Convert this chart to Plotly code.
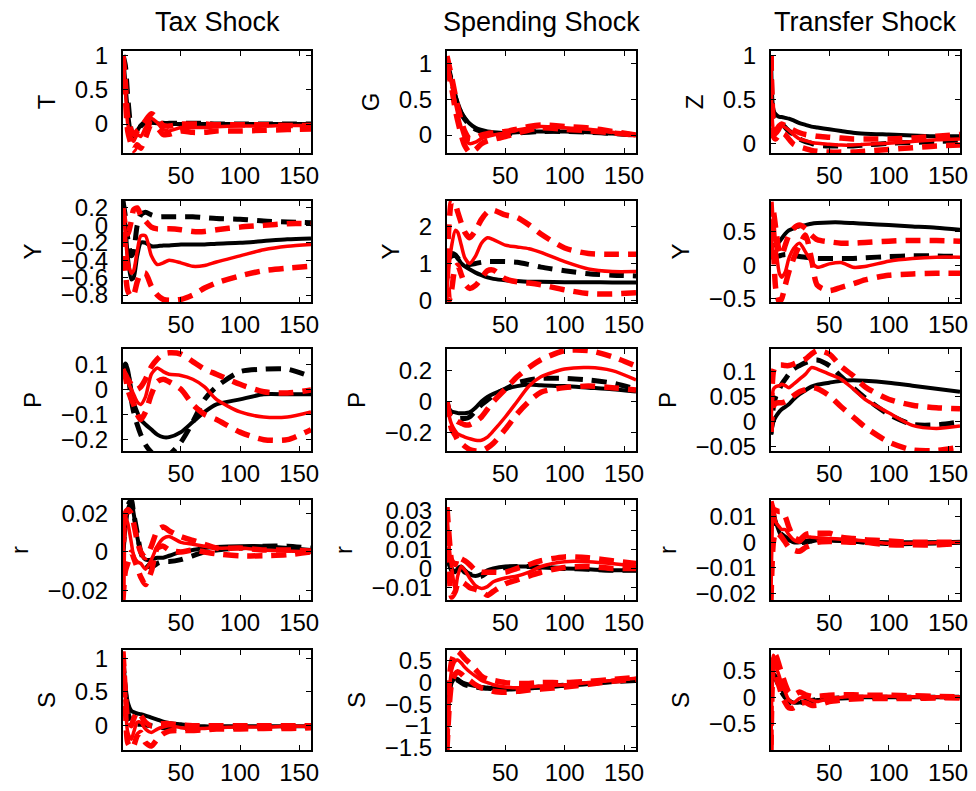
import plotly.graph_objects as go

H = [1, 3, 5, 8, 10, 13, 16, 20, 25, 30, 35, 40, 50, 60, 70, 80, 100, 120, 140, 160]

SHOCKS = ["Tax Shock", "Spending Shock", "Transfer Shock"]
ROW_LABELS = [["T", "G", "Z"], ["Y", "Y", "Y"], ["P", "P", "P"], ["r", "r", "r"], ["S", "S", "S"]]
X_TICKS = [50, 100, 150]

# ---- row 1: own shock variable ----
tax_T = dict(
    blk_s=[1, 0.6, 0.2, -0.15, -0.2, -0.1, -0.02, 0.03, 0.02, 0.01, 0.0, 0.0, 0.0, 0.0, 0.0, 0.0, 0.0, 0.0, 0.0, 0.0],
    blk_d=[1, 0.85, 0.4, -0.1, -0.2, -0.12, -0.03, 0.02, 0.03, 0.02, 0.01, 0.01, 0.01, 0.01, 0.01, 0.0, 0.0, 0.0, 0.0, 0.0],
    red_s=[1, 0.5, 0.0, -0.2, -0.25, -0.15, -0.18, -0.05, 0.08, 0.02, -0.08, -0.1, -0.05, -0.05, -0.05, -0.04, -0.03, -0.03, -0.02, -0.02],
    red_u=[1, 0.6, 0.1, -0.1, -0.15, -0.1, -0.05, 0.05, 0.15, 0.08, -0.02, -0.03, 0.0, 0.0, 0.0, -0.01, -0.01, -0.01, -0.02, -0.02],
    red_l=[1, 0.4, -0.1, -0.3, -0.38, -0.3, -0.35, -0.2, 0.0, -0.05, -0.15, -0.15, -0.1, -0.12, -0.12, -0.1, -0.1, -0.09, -0.08, -0.07],
)
spend_G = dict(
    blk_s=[1, 0.88, 0.75, 0.55, 0.45, 0.32, 0.24, 0.16, 0.1, 0.07, 0.05, 0.04, 0.03, 0.04, 0.05, 0.05, 0.05, 0.04, 0.02, 0.0],
    blk_d=[1, 0.88, 0.74, 0.53, 0.42, 0.3, 0.22, 0.14, 0.08, 0.05, 0.03, 0.02, 0.02, 0.03, 0.04, 0.05, 0.05, 0.04, 0.02, 0.0],
    red_s=[1, 0.85, 0.7, 0.45, 0.3, 0.1, -0.05, -0.12, -0.1, -0.05, -0.02, 0.0, 0.03, 0.07, 0.1, 0.12, 0.1, 0.08, 0.04, 0.0],
    red_u=[1.1, 0.95, 0.8, 0.55, 0.4, 0.2, 0.05, -0.05, -0.04, 0.0, 0.02, 0.03, 0.05, 0.08, 0.12, 0.14, 0.12, 0.1, 0.05, 0.0],
    red_l=[0.95, 0.8, 0.65, 0.35, 0.2, 0.0, -0.15, -0.24, -0.2, -0.12, -0.08, -0.06, -0.02, 0.03, 0.07, 0.1, 0.08, 0.06, 0.03, 0.0],
)
transfer_Z = dict(
    blk_s=[1, 0.38, 0.33, 0.3, 0.3, 0.29, 0.28, 0.26, 0.23, 0.21, 0.19, 0.18, 0.16, 0.14, 0.12, 0.11, 0.1, 0.09, 0.08, 0.08],
    blk_d=[1, 0.33, 0.28, 0.25, 0.22, 0.18, 0.14, 0.1, 0.05, 0.02, 0.0, -0.02, -0.03, -0.03, -0.03, -0.02, 0.0, 0.01, 0.02, 0.03],
    red_s=[1, 0.15, 0.1, 0.15, 0.2, 0.18, 0.15, 0.1, 0.05, 0.03, 0.01, 0.0, -0.01, -0.02, -0.02, -0.01, 0.0, 0.02, 0.04, 0.05],
    red_u=[1, 0.25, 0.15, 0.2, 0.22, 0.2, 0.18, 0.15, 0.12, 0.1, 0.09, 0.08, 0.07, 0.06, 0.05, 0.05, 0.05, 0.06, 0.08, 0.1],
    red_l=[1, 0.08, 0.05, 0.1, 0.12, 0.1, 0.05, -0.01, -0.04, -0.06, -0.08, -0.09, -0.1, -0.1, -0.1, -0.09, -0.07, -0.05, -0.03, -0.02],
)

# ---- row 2: output Y ----
tax_Y = dict(
    blk_s=[0.28, 0.0, -0.35, -0.62, -0.6, -0.35, -0.2, -0.2, -0.24, -0.24, -0.23, -0.23, -0.22, -0.22, -0.22, -0.21, -0.2, -0.18, -0.16, -0.15],
    blk_d=[0.28, 0.1, -0.15, -0.35, -0.3, 0.0, 0.12, 0.15, 0.12, 0.1, 0.1, 0.1, 0.1, 0.1, 0.09, 0.08, 0.07, 0.05, 0.04, 0.03],
    red_s=[0.2, -0.1, -0.4, -0.55, -0.52, -0.3, -0.12, -0.12, -0.35, -0.45, -0.43, -0.4, -0.43, -0.47, -0.46, -0.42, -0.35, -0.28, -0.24, -0.22],
    red_u=[0.2, 0.0, -0.1, 0.05, 0.18, 0.2, 0.12, 0.05, -0.02, -0.04, -0.04, -0.04, -0.05, -0.07, -0.07, -0.05, -0.02, 0.0, 0.02, 0.02],
    red_l=[0.2, -0.5, -0.75, -0.82, -0.8, -0.65, -0.55, -0.55, -0.7, -0.8, -0.85, -0.86, -0.85, -0.8, -0.72, -0.66, -0.58, -0.52, -0.49, -0.47],
)
spend_Y = dict(
    blk_s=[1.1, 1.2, 1.28, 1.25, 1.15, 1.0, 0.92, 0.84, 0.75, 0.68, 0.62, 0.58, 0.54, 0.52, 0.5, 0.5, 0.49, 0.49, 0.48, 0.48],
    blk_d=[1.1, 1.15, 1.2, 1.22, 1.15, 1.05, 0.99, 0.97, 1.0, 1.03, 1.05, 1.05, 1.05, 1.03, 0.97, 0.9, 0.8, 0.72, 0.68, 0.66],
    red_s=[0.3, 1.0, 1.5, 1.9, 1.85, 1.5, 1.15, 1.0, 1.2, 1.55, 1.7, 1.65, 1.5, 1.45, 1.4, 1.3, 1.05, 0.85, 0.78, 0.78],
    red_u=[1.0, 2.2, 2.7, 2.6, 2.4, 2.1, 1.85, 1.7, 1.9, 2.2, 2.4, 2.45, 2.32, 2.25, 2.05, 1.8, 1.42, 1.27, 1.25, 1.25],
    red_l=[1.0, 0.0, 0.3, 0.9, 0.95, 0.7, 0.45, 0.32, 0.4, 0.6, 0.8, 0.82, 0.58, 0.5, 0.47, 0.42, 0.28, 0.18, 0.17, 0.2],
)
transfer_Y = dict(
    blk_s=[0.25, 0.3, 0.3, 0.35, 0.4, 0.47, 0.52, 0.55, 0.58, 0.6, 0.62, 0.63, 0.64, 0.64, 0.63, 0.62, 0.6, 0.58, 0.56, 0.53],
    blk_d=[0.1, 0.12, 0.13, 0.14, 0.15, 0.16, 0.16, 0.15, 0.13, 0.12, 0.11, 0.1, 0.1, 0.1, 0.1, 0.11, 0.13, 0.14, 0.14, 0.13],
    red_s=[0.1, 0.7, 0.3, -0.12, -0.18, -0.1, 0.1, 0.25, 0.33, 0.2, 0.05, -0.03, 0.02, 0.04, -0.03, -0.02, 0.06, 0.1, 0.12, 0.12],
    red_u=[0.1, 0.8, 0.55, 0.2, 0.15, 0.3, 0.45, 0.55, 0.6, 0.55, 0.45, 0.38, 0.35, 0.33, 0.33, 0.34, 0.36, 0.37, 0.37, 0.36],
    red_l=[0.95, 0.3, -0.35, -0.55, -0.5, -0.3, -0.1, 0.1, 0.3, 0.45, 0.1, -0.3, -0.38, -0.33, -0.28, -0.22, -0.15, -0.13, -0.12, -0.12],
)

# ---- row 3: prices P ----
tax_P = dict(
    blk_s=[0.05, 0.1, 0.08, 0.0, -0.05, -0.09, -0.12, -0.14, -0.16, -0.18, -0.19, -0.19, -0.17, -0.13, -0.09, -0.06, -0.04, -0.02, -0.02, -0.02],
    blk_d=[0.05, 0.1, 0.07, -0.04, -0.09, -0.14, -0.18, -0.22, -0.25, -0.27, -0.27, -0.26, -0.21, -0.13, -0.04, 0.01, 0.07, 0.08, 0.08, 0.05],
    red_s=[0.08, 0.06, 0.03, 0.0, -0.02, -0.05, -0.06, -0.03, 0.06, 0.085, 0.07, 0.06, 0.055, 0.04, 0.01, -0.04, -0.09, -0.11, -0.11, -0.09],
    red_u=[0.07, 0.06, 0.04, 0.02, 0.01, 0.0, 0.01, 0.04, 0.09, 0.12, 0.14, 0.145, 0.14, 0.11, 0.08, 0.06, 0.02, -0.01, -0.015, -0.003],
    red_l=[0.08, 0.05, 0.0, -0.04, -0.06, -0.1, -0.12, -0.09, -0.02, 0.03, 0.04, 0.03, 0.0, -0.06, -0.1, -0.12, -0.17, -0.2, -0.2, -0.16],
)
spend_P = dict(
    blk_s=[0.0, -0.05, -0.065, -0.07, -0.075, -0.075, -0.075, -0.07, -0.04, 0.0, 0.03, 0.05, 0.08, 0.1, 0.11, 0.105, 0.1, 0.09, 0.08, 0.065],
    blk_d=[0.0, -0.06, -0.09, -0.1, -0.11, -0.11, -0.11, -0.1, -0.06, -0.02, 0.01, 0.04, 0.08, 0.12, 0.14, 0.15, 0.15, 0.14, 0.12, 0.08],
    red_s=[0.0, -0.1, -0.15, -0.19, -0.21, -0.22, -0.23, -0.24, -0.25, -0.25, -0.23, -0.19, -0.1, 0.0, 0.1, 0.16, 0.21, 0.22, 0.2, 0.14],
    red_u=[0.0, -0.08, -0.11, -0.12, -0.13, -0.14, -0.15, -0.15, -0.13, -0.1, -0.05, 0.0, 0.08, 0.16, 0.22, 0.27, 0.33, 0.33, 0.29, 0.23],
    red_l=[0.0, -0.12, -0.18, -0.22, -0.25, -0.27, -0.29, -0.31, -0.32, -0.32, -0.3, -0.27, -0.18, -0.08, 0.0, 0.06, 0.09, 0.1, 0.09, 0.075],
)
transfer_P = dict(
    blk_s=[-0.025, 0.0, 0.01, 0.02, 0.025, 0.03, 0.035, 0.045, 0.055, 0.063, 0.07, 0.074, 0.078, 0.082, 0.083, 0.082, 0.078, 0.072, 0.066, 0.06],
    blk_d=[-0.025, 0.03, 0.05, 0.065, 0.075, 0.085, 0.095, 0.105, 0.112, 0.118, 0.122, 0.123, 0.112, 0.09, 0.068, 0.048, 0.015, -0.005, -0.006, 0.0],
    red_s=[-0.02, 0.065, 0.07, 0.072, 0.075, 0.072, 0.068, 0.075, 0.085, 0.095, 0.108, 0.105, 0.095, 0.085, 0.066, 0.045, 0.018, -0.007, -0.013, -0.008],
    red_u=[-0.02, 0.1, 0.112, 0.113, 0.113, 0.112, 0.112, 0.115, 0.12, 0.125, 0.135, 0.142, 0.135, 0.11, 0.092, 0.07, 0.045, 0.033, 0.028, 0.026],
    red_l=[-0.02, 0.03, 0.037, 0.038, 0.038, 0.04, 0.045, 0.052, 0.06, 0.064, 0.068, 0.066, 0.052, 0.03, 0.01, -0.01, -0.04, -0.056, -0.057, -0.05],
)

# ---- row 4: interest rate r ----
tax_r = dict(
    blk_s=[0.0, 0.012, 0.022, 0.026, 0.02, 0.008, 0.0, -0.004, -0.004, -0.003, -0.003, -0.002, 0.0, 0.001, 0.002, 0.0025, 0.003, 0.003, 0.002, 0.001],
    blk_d=[0.0, 0.015, 0.024, 0.027, 0.02, 0.01, 0.0, -0.006, -0.008, -0.006, -0.005, -0.005, -0.004, -0.002, 0.0, 0.001, 0.002, 0.003, 0.003, 0.002],
    red_s=[-0.023, 0.018, 0.015, 0.005, -0.002, -0.005, -0.006, -0.009, -0.004, 0.003, 0.007, 0.008, 0.005, 0.004, 0.003, 0.002, 0.002, 0.001, 0.0005, 0.0],
    red_u=[-0.02, 0.02, 0.022, 0.02, 0.015, 0.006, 0.0, -0.003, 0.003, 0.011, 0.013, 0.011, 0.008, 0.006, 0.004, 0.002, 0.002, 0.001, 0.001, 0.0005],
    red_l=[-0.025, -0.01, -0.006, 0.0, -0.003, -0.008, -0.013, -0.017, -0.01, 0.002, 0.003, 0.001, 0.0, 0.001, 0.0, -0.001, -0.002, -0.002, -0.0015, 0.0],
)
spend_r = dict(
    blk_s=[0.006, 0.003, 0.0, -0.002, 0.0, 0.001, -0.001, -0.003, -0.004, -0.003, -0.001, 0.0, 0.001, 0.001, 0.001, 0.0005, 0.0, -0.0005, -0.001, -0.001],
    blk_d=[0.005, 0.002, -0.001, -0.003, -0.001, 0.0, -0.002, -0.003, -0.004, -0.004, -0.002, -0.001, 0.0005, 0.001, 0.001, 0.0005, 0.0, -0.0005, -0.001, -0.001],
    red_s=[0.03, 0.01, 0.0, -0.011, -0.004, 0.001, -0.001, -0.005, -0.009, -0.0105, -0.0095, -0.007, -0.005, -0.004, -0.002, 0.001, 0.0035, 0.0035, 0.0025, 0.001],
    red_u=[0.032, 0.015, 0.004, 0.002, 0.006, 0.005, 0.004, 0.002, -0.001, -0.002, -0.002, -0.002, -0.002, 0.0, 0.002, 0.004, 0.006, 0.0055, 0.004, 0.0025],
    red_l=[0.011, -0.005, -0.015, -0.012, -0.008, -0.007, -0.008, -0.01, -0.011, -0.012, -0.014, -0.012, -0.008, -0.006, -0.004, -0.002, 0.0005, 0.001, 0.0, 0.0],
)
transfer_r = dict(
    blk_s=[0.014, 0.012, 0.008, 0.004, 0.002, 0.001, 0.001, 0.0, 0.0, 0.0005, 0.001, 0.001, 0.0008, 0.0005, 0.0003, 0.0002, 0.0, 0.0, 0.0, 0.0],
    blk_d=[0.012, 0.01, 0.007, 0.004, 0.003, 0.002, 0.001, 0.0005, 0.0, 0.0, 0.0005, 0.001, 0.001, 0.0008, 0.0005, 0.0, -0.0005, -0.0005, -0.0003, 0.0],
    red_s=[-0.022, 0.014, 0.008, 0.006, 0.005, 0.005, 0.003, 0.001, 0.0, 0.002, 0.002, 0.0018, 0.0015, 0.0012, 0.001, 0.0005, -0.0004, -0.0004, -0.0002, 0.0],
    red_u=[0.016, 0.013, 0.0125, 0.012, 0.012, 0.01, 0.006, 0.002, 0.001, 0.003, 0.0035, 0.0035, 0.0035, 0.002, 0.0015, 0.001, 0.0005, 0.0, 0.0, 0.0],
    red_l=[-0.0225, 0.0, 0.004, 0.003, 0.002, 0.0, -0.002, -0.003, -0.0035, -0.002, -0.001, 0.0, 0.0003, 0.0002, 0.0, 0.0, -0.001, -0.001, -0.001, -0.0004],
)

# ---- row 5: S ----
tax_S = dict(
    blk_s=[1.0, 0.6, 0.35, 0.22, 0.2, 0.18, 0.17, 0.15, 0.12, 0.09, 0.06, 0.04, 0.02, 0.0, -0.01, -0.01, -0.01, -0.01, -0.01, -0.01],
    blk_d=[1.0, 0.5, 0.2, 0.05, 0.02, 0.02, 0.02, 0.01, 0.0, -0.02, -0.03, -0.04, -0.04, -0.04, -0.04, -0.03, -0.03, -0.02, -0.02, -0.02],
    red_s=[1.05, 0.4, -0.1, -0.2, -0.1, 0.05, 0.05, -0.05, -0.1, -0.05, -0.02, 0.0, -0.03, -0.05, -0.04, -0.03, -0.02, -0.02, -0.01, -0.01],
    red_u=[1.1, 0.5, 0.1, 0.0, 0.1, 0.2, 0.15, 0.05, 0.0, 0.02, 0.03, 0.03, 0.01, 0.0, 0.0, 0.0, 0.0, 0.0, 0.0, 0.0],
    red_l=[1.0, 0.3, -0.25, -0.33, -0.3, -0.15, -0.1, -0.25, -0.3, -0.2, -0.12, -0.08, -0.07, -0.07, -0.06, -0.05, -0.05, -0.04, -0.04, -0.03],
)
spend_S = dict(
    blk_s=[-1.0, -0.3, 0.0, 0.1, 0.08, 0.02, -0.02, -0.05, -0.08, -0.1, -0.12, -0.13, -0.14, -0.14, -0.13, -0.11, -0.07, -0.03, 0.02, 0.06],
    blk_d=[-1.0, -0.3, 0.0, 0.08, 0.05, 0.0, -0.05, -0.08, -0.1, -0.12, -0.13, -0.14, -0.15, -0.14, -0.12, -0.1, -0.06, -0.02, 0.02, 0.05],
    red_s=[-1.5, -0.2, 0.3, 0.5, 0.52, 0.45, 0.35, 0.25, 0.15, 0.05, 0.0, -0.05, -0.1, -0.12, -0.1, -0.08, -0.05, 0.0, 0.05, 0.1],
    red_u=[-1.4, 0.1, 0.5, 0.7, 0.72, 0.65, 0.55, 0.45, 0.3, 0.15, 0.08, 0.05, 0.0, -0.02, -0.02, 0.0, 0.0, 0.03, 0.07, 0.12],
    red_l=[-1.55, -0.5, 0.0, 0.2, 0.25, 0.2, 0.12, 0.05, -0.05, -0.12, -0.15, -0.2, -0.22, -0.2, -0.17, -0.15, -0.1, -0.04, 0.03, 0.08],
)
transfer_S = dict(
    blk_s=[0.3, 0.45, 0.4, 0.25, 0.15, 0.03, -0.05, -0.1, -0.1, -0.08, -0.06, -0.05, -0.03, -0.02, -0.01, 0.0, 0.0, 0.0, 0.0, 0.0],
    blk_d=[0.3, 0.4, 0.35, 0.2, 0.1, 0.0, -0.08, -0.12, -0.1, -0.08, -0.06, -0.04, -0.02, -0.01, 0.0, 0.0, 0.0, 0.0, 0.0, 0.0],
    red_s=[-1.0, 0.8, 0.6, 0.4, 0.25, 0.1, -0.05, -0.1, -0.02, 0.0, -0.05, -0.08, -0.02, 0.0, 0.02, 0.02, 0.02, 0.01, 0.01, 0.0],
    red_u=[-0.9, 0.85, 0.8, 0.6, 0.45, 0.25, 0.1, 0.05, 0.1, 0.05, 0.02, 0.02, 0.04, 0.05, 0.05, 0.04, 0.04, 0.03, 0.02, 0.01],
    red_l=[-1.0, 0.6, 0.4, 0.2, 0.05, -0.1, -0.2, -0.2, -0.12, -0.1, -0.15, -0.15, -0.08, -0.05, -0.03, -0.02, -0.02, -0.02, -0.01, -0.01],
)

PANELS = [
    [tax_T, spend_G, transfer_Z],
    [tax_Y, spend_Y, transfer_Y],
    [tax_P, spend_P, transfer_P],
    [tax_r, spend_r, transfer_r],
    [tax_S, spend_S, transfer_S],
]

Y_RANGES = [
    [[-0.42, 1.06], [-0.25, 1.17], [-0.11, 1.05]],
    [[-0.88, 0.28], [-0.05, 2.7], [-0.55, 0.96]],
    [[-0.245, 0.16], [-0.32, 0.34], [-0.058, 0.145]],
    [[-0.025, 0.027], [-0.0165, 0.0357], [-0.0225, 0.0165]],
    [[-0.36, 1.12], [-1.55, 0.75], [-1.0, 0.9]],
]
Y_TICKS = [
    [[0, 0.5, 1], [0, 0.5, 1], [0, 0.5, 1]],
    [[-0.8, -0.6, -0.4, -0.2, 0, 0.2], [0, 1, 2], [-0.5, 0, 0.5]],
    [[-0.2, -0.1, 0, 0.1], [-0.2, 0, 0.2], [-0.05, 0, 0.05, 0.1]],
    [[-0.02, 0, 0.02], [-0.01, 0, 0.01, 0.02, 0.03], [-0.02, -0.01, 0, 0.01]],
    [[0, 0.5, 1], [-1.5, -1, -0.5, 0, 0.5], [-0.5, 0, 0.5]],
]

W, Hpx = 976, 791
COL_PX = [(123, 311), (447, 636), (771, 960)]
ROW_PX = [(51, 153), (201, 302), (349, 451), (500, 600), (650, 750)]

STYLES = [
    ("blk_s", "black", 4, "solid"),
    ("blk_d", "black", 5, "15px,9px"),
    ("red_s", "#ff0000", 3.5, "solid"),
    ("red_u", "#ff0000", 5.5, "15px,9px"),
    ("red_l", "#ff0000", 5.5, "15px,9px"),
]

FONT = "Liberation Sans, Arial, Helvetica, sans-serif"

def fmt(v):
    s = ("%g" % v)
    return s.replace("-", "\u2212")

fig = go.Figure()
layout = dict(
    width=W, height=Hpx, autosize=False,
    margin=dict(l=0, r=0, t=0, b=0, pad=0),
    paper_bgcolor="white", plot_bgcolor="white",
    showlegend=False,
    font=dict(family=FONT, size=24, color="black"),
)

annotations = []
k = 0
for r in range(5):
    for c in range(3):
        k += 1
        xa = "xaxis" if k == 1 else f"xaxis{k}"
        ya = "yaxis" if k == 1 else f"yaxis{k}"
        xref = "x" if k == 1 else f"x{k}"
        yref = "y" if k == 1 else f"y{k}"
        x0, x1 = COL_PX[c]
        y0, y1 = ROW_PX[r]
        layout[xa] = dict(
            domain=[x0 / W, x1 / W], anchor=yref, range=[1, 160],
            tickvals=X_TICKS, ticktext=[str(t) for t in X_TICKS],
            ticks="inside", ticklen=5, tickwidth=1, tickcolor="black",
            showline=True, linecolor="black", linewidth=2, mirror="allticks",
            showgrid=False, zeroline=False, ticklabelstandoff=0, automargin=False,
            tickfont=dict(family=FONT, size=24, color="black"),
        )
        yt = Y_TICKS[r][c]
        layout[ya] = dict(
            domain=[1 - y1 / Hpx, 1 - y0 / Hpx], anchor=xref, range=Y_RANGES[r][c],
            tickvals=yt, ticktext=[fmt(t) for t in yt],
            ticks="inside", ticklen=5, tickwidth=1, tickcolor="black",
            showline=True, linecolor="black", linewidth=2, mirror="allticks",
            showgrid=False, zeroline=False, ticklabelstandoff=8, automargin=False,
            tickfont=dict(family=FONT, size=24, color="black"),
            title=dict(text=ROW_LABELS[r][c], standoff=12,
                       font=dict(family=FONT, size=24, color="black")),
        )
        panel = PANELS[r][c]
        for key, color, width, dash in STYLES:
            fig.add_trace(go.Scatter(
                x=H, y=panel[key], xaxis=xref, yaxis=yref, mode="lines",
                line=dict(color=color, width=width, dash=dash, shape="spline", smoothing=0.7),
                hoverinfo="skip",
            ))

for c, title in enumerate(SHOCKS):
    x0, x1 = COL_PX[c]
    annotations.append(dict(
        text=title, x=(x0 + x1) / 2 / W, y=1 - 22 / Hpx, xref="paper", yref="paper",
        showarrow=False, xanchor="center", yanchor="middle",
        font=dict(family=FONT, size=27, color="black"),
    ))

layout["annotations"] = annotations
fig.update_layout(**layout)
fig.write_html(
    "out.html",
    config={"displayModeBar": False},
    post_script="document.body.style.margin='0';document.body.style.padding='0';document.body.style.overflow='hidden';",
)
